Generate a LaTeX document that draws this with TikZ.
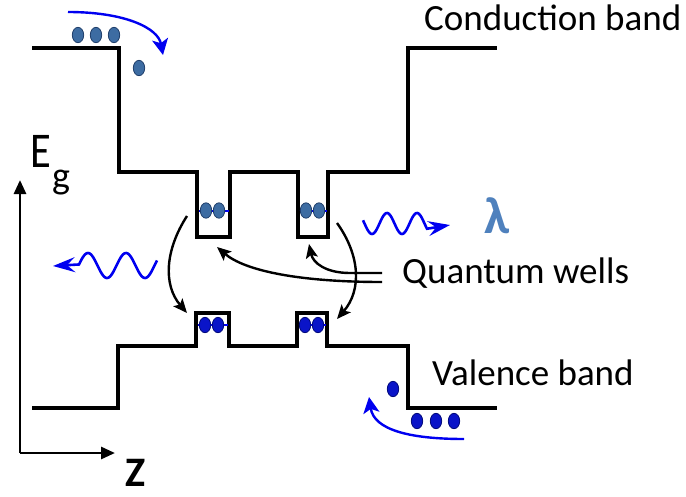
\documentclass[tikz,border=0pt]{standalone}
\usepackage{fontspec}
\setmainfont{Carlito}
\usetikzlibrary{arrows.meta}
\definecolor{cdot}{HTML}{3D6CA2}
\definecolor{cdotd}{HTML}{1F3E6A}
\definecolor{vdot}{HTML}{0A14C8}
\definecolor{vdotd}{HTML}{00087A}
\definecolor{lam}{HTML}{4F81BD}
\definecolor{wblue}{HTML}{0000F0}
\tikzset{
  band/.style={line width=3.8pt, line join=miter, line cap=butt},
  axisline/.style={line width=2.8pt, -{Triangle[length=14pt,width=12pt]}},
  transit/.style={line width=2.4pt, -{Stealth[length=14pt,width=12pt,inset=3pt]}},
  bluearrow/.style={wblue, line width=2.4pt, -{Stealth[length=16pt,width=16pt,inset=4pt]}},
  wave/.style={wblue, line width=2.6pt, -{Stealth[length=22pt,width=15pt,inset=8pt]}},
  cdotst/.style={fill=cdot, draw=cdotd, line width=0.8pt},
  vdotst/.style={fill=vdot, draw=vdotd, line width=0.8pt},
  lbl/.style={font=\fontsize{37}{40}\selectfont, inner sep=0pt, anchor=base west},
}
\begin{document}
\begin{tikzpicture}[x=1pt,y=-1pt]
\useasboundingbox (0,0) rectangle (686,496);
% bands
\draw[band] (32,48) -- (119,48) -- (119,172) -- (197,172) -- (197,237) -- (230,237) -- (230,172) -- (298,172) -- (298,237) -- (328,237) -- (328,172) -- (408,172) -- (408,48) -- (497,48);
\draw[band] (32,408) -- (118,408) -- (118,346) -- (196,346) -- (196,313) -- (229,313) -- (229,346) -- (297,346) -- (297,313) -- (327,313) -- (327,346) -- (408,346) -- (408,408) -- (497,408);
% levels in wells
\draw[wblue, line width=2pt] (199,210.5) -- (228.5,210.5);
\draw[wblue, line width=2pt] (299.5,210.5) -- (326.5,210.5);
\draw[wblue, line width=2pt] (197.5,325) -- (227.5,325);
\draw[wblue, line width=2pt] (298.5,325) -- (325.5,325);
% dots
\foreach \x in {206,219,306,319} \fill[cdotst] (\x,210.5) ellipse [x radius=5.7, y radius=7.7];
\foreach \x in {205,218,305,318} \fill[vdotst] (\x,325) ellipse [x radius=5.7, y radius=7.7];
\foreach \x in {78,96,114} \fill[cdotst] (\x,35) ellipse [x radius=5.7, y radius=7.7];
\fill[cdotst] (139,68) ellipse [x radius=5.7, y radius=7.7];
\foreach \x in {417,436,454} \fill[vdotst] (\x,421) ellipse [x radius=5.7, y radius=7.7];
\fill[vdotst] (393,389) ellipse [x radius=5.7, y radius=7.7];
% blue carrier arrows
\coordinate (ta) at (68,12);
\coordinate (tb) at (163,55);
\draw[bluearrow] (ta) .. controls (125,12) and (158,28) .. (tb);
\coordinate (ba) at (464,439);
\coordinate (bb) at (369,397);
\draw[bluearrow] (ba) .. controls (410,439) and (374,430) .. (bb);
% axes
\coordinate (o) at (20,453);
\coordinate (ey) at (20,180);
\coordinate (zx) at (115,453);
\draw[axisline] (o) -- (ey);
\draw[axisline] (o) -- (zx);
\node[font=\fontsize{50}{54}\selectfont, inner sep=0pt, anchor=base west, xscale=0.85] (E) at (30,167) {E};
\node[font=\fontsize{38}{40}\selectfont, inner sep=0pt, anchor=base west] (g) at (52,188) {g};
\node[font=\fontsize{42}{44}\selectfont\bfseries, inner sep=0pt, anchor=base west] (Z) at (125,486) {Z};
% labels
\node[lbl] (cb) at (424,30) {Conduction band};
\node[lbl] (qw) at (402,283) {Quantum wells};
\node[lbl] (vb) at (432,385) {Valence band};
\node[font=\fontsize{52}{56}\selectfont\bfseries, text=lam, inner sep=0pt] (lam) at (497,216) {λ};
% transitions
\coordinate (c1) at (187,216);
\coordinate (v1) at (187,313);
\coordinate (c2) at (337,223);
\coordinate (v2) at (337,319);
\draw[transit] (c1) .. controls (165,250) and (163,285) .. (v1);
\draw[transit] (c2) .. controls (360,255) and (362,290) .. (v2);
% quantum well pointers
\coordinate (q1) at (382,282);
\coordinate (w1) at (217,247);
\coordinate (q2) at (382,273);
\coordinate (q2b) at (350,273);
\coordinate (w2) at (309,244);
\draw[transit] (q1) .. controls (300,282) and (245,271) .. (w1);
\draw[transit] (q2) -- (q2b) .. controls (326,273) and (313,263) .. (w2);
% photons
\draw[wave] plot[domain=157:79, samples=80, smooth] (\x,{265.5-12.5*cos(9.4737*(\x-88))}) -- (53,266);
\draw[wave] plot[domain=363:427, samples=80, smooth] (\x,{223.5-10.5*cos(12*(\x-387))}) -- (450,225);
\end{tikzpicture}
\end{document}
